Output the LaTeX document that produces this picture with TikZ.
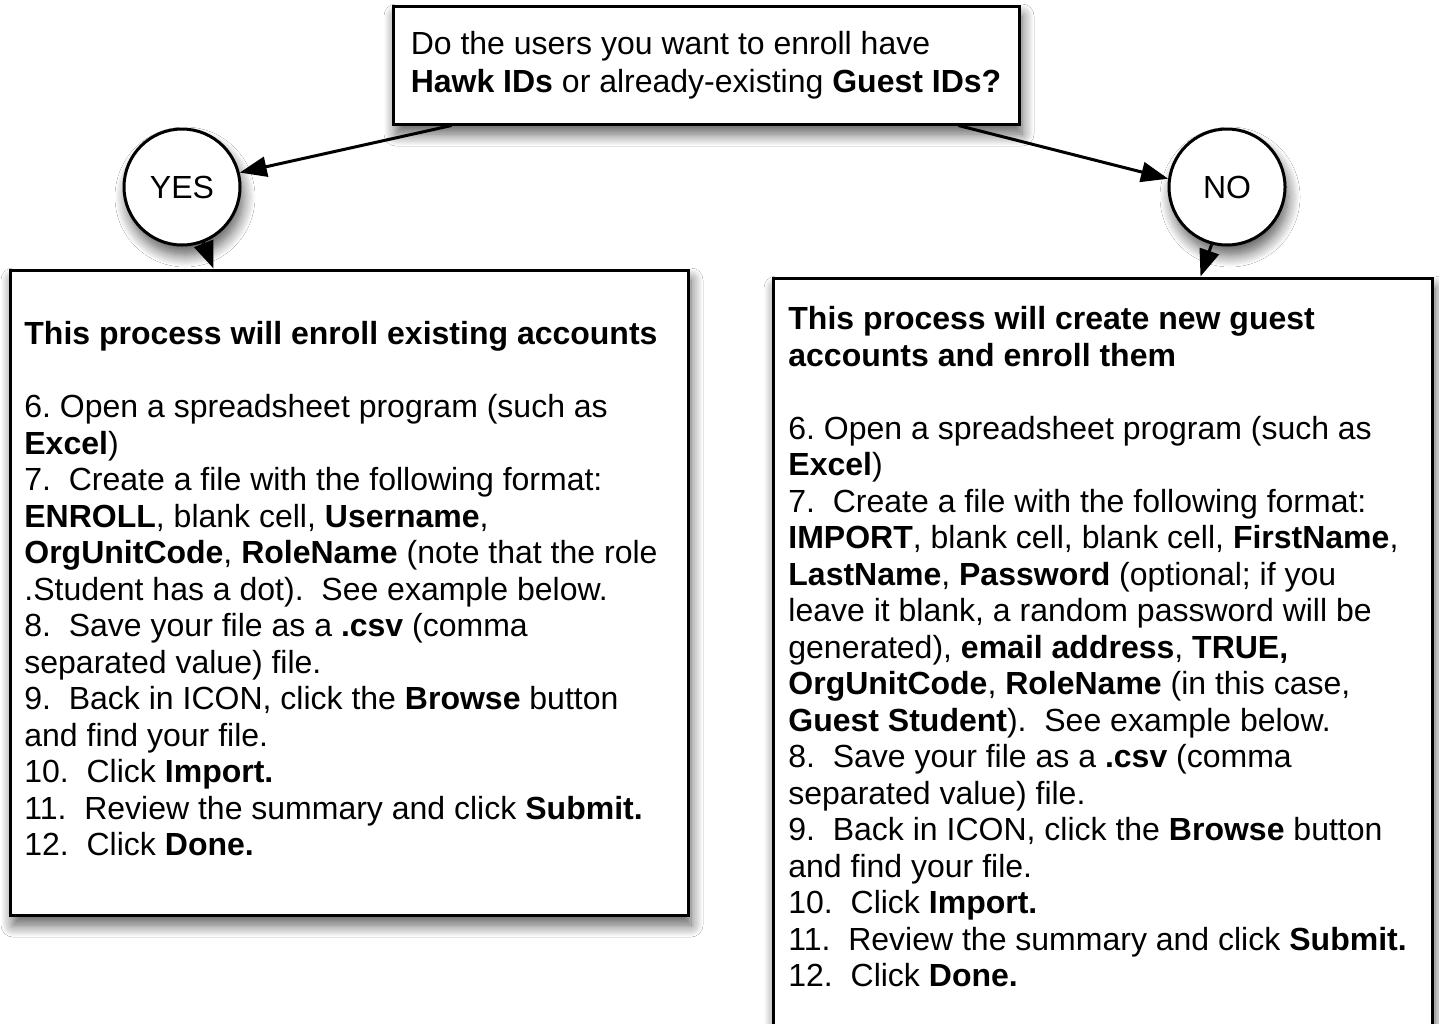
\documentclass[tikz,border=0pt]{standalone}
\usepackage{fontspec}
\setmainfont{Liberation Sans}
\usetikzlibrary{arrows.meta,shadows.blur}
\begin{document}
\frenchspacing
\begin{tikzpicture}[x=0.5pt,y=0.5pt,
  every node/.style={font=\fontsize{16}{18.25}\selectfont},
  sh/.style={blur shadow={shadow xshift=1.5pt,shadow yshift=-5pt,shadow blur radius=6pt,shadow opacity=65,shadow blur steps=12}},
  box/.style={draw=black,line width=1.5pt,fill=white,rectangle,sh,inner sep=0pt},
  circ/.style={draw=black,line width=1.5pt,fill=white,circle,minimum size=58pt,inner sep=0pt,sh},
  txt/.style={align=left,inner sep=0pt,anchor=north west},
  conn/.style={line width=1.5pt,-{Triangle[length=13.5pt,width=10pt]}}]
\useasboundingbox (0,0) rectangle (1439,-1023);
\fill[white] (0,0) rectangle (1439,-1023);
% boxes
\node[box,minimum width=313pt,minimum height=59pt,align=left] (top) at (706,-65)
  {Do the users you want to enroll have\\[1pt]\textbf{Hawk IDs} or already-existing \textbf{Guest IDs?}};
\node[circ] (yes) at (182,-187) {YES};
\node[circ] (no) at (1227,-187) {NO};
\node[box,minimum width=339pt,minimum height=322.5pt] (left) at (349,-592.5) {};
\node[box,minimum width=329.5pt,minimum height=390pt] (right) at (1102.5,-668) {};
% texts
\node[txt] (ltext) at (24,-321) {\textbf{This process will enroll existing accounts}\\[18.25pt]
6. Open a spreadsheet program (such as\\
\textbf{Excel})\\
7.\ \ Create a file with the following format:\\
\textbf{ENROLL}, blank cell, \textbf{Username},\\
\textbf{OrgUnitCode}, \textbf{RoleName} (note that the role\\
.Student has a dot).\ \ See example below.\\
8.\ \ Save your file as a \textbf{.csv} (comma\\
separated value) file.\\
9.\ \ Back in ICON, click the \textbf{Browse} button\\
and find your file.\\
10.\ \ Click \textbf{Import.}\\
11.\ \ Review the summary and click \textbf{Submit.}\\
12.\ \ Click \textbf{Done.}};
\node[txt] (rtext) at (788,-306) {\textbf{This process will create new guest}\\
\textbf{accounts and enroll them}\\[18.25pt]
6. Open a spreadsheet program (such as\\
\textbf{Excel})\\
7.\ \ Create a file with the following format:\\
\textbf{IMPORT}, blank cell, blank cell, \textbf{FirstName},\\
\textbf{LastName}, \textbf{Password} (optional; if you\\
leave it blank, a random password will be\\
generated), \textbf{email address}, \textbf{TRUE,}\\
\textbf{OrgUnitCode}, \textbf{RoleName} (in this case,\\
\textbf{Guest Student}).\ \ See example below.\\
8.\ \ Save your file as a \textbf{.csv} (comma\\
separated value) file.\\
9.\ \ Back in ICON, click the \textbf{Browse} button\\
and find your file.\\
10.\ \ Click \textbf{Import.}\\
11.\ \ Review the summary and click \textbf{Submit.}\\
12.\ \ Click \textbf{Done.}};
% connectors
\draw[conn] ([xshift=30pt]top.south west) -- (yes.14);
\draw[conn] ([xshift=-31pt]top.south east) -- (no.172);
\draw[conn] (yes.-69) -- ([xshift=102.5pt]left.north west);
\draw[conn] (no.-105) -- ([xshift=214.5pt]right.north west);
\end{tikzpicture}
\end{document}
